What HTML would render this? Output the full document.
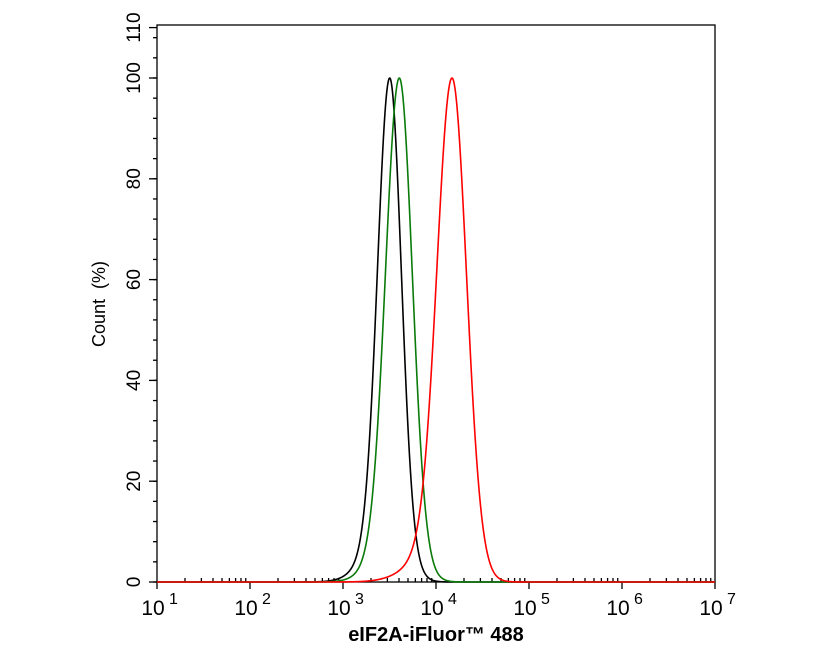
<!DOCTYPE html>
<html><head><meta charset="utf-8"><style>
body{margin:0;background:#fff;}
svg{display:block;font-family:"Liberation Sans",Arial,sans-serif;}
</style></head><body>
<svg id="s" width="816" height="653" viewBox="0 0 816 653" xmlns="http://www.w3.org/2000/svg">
<rect width="816" height="653" fill="#fff"/>
<g id="ax" stroke="#000" stroke-width="1.3" fill="none"></g>
<g id="cv" fill="none" stroke-width="1.6"></g>
<g id="tx" font-size="19" fill="#000"></g>
<text x="436" y="641" font-size="20" font-weight="bold" text-anchor="middle">eIF2A-iFluor™ 488</text>
<text transform="translate(105,304) rotate(-90)" font-size="18" text-anchor="middle">Count&#160;&#160;(%)</text>
</svg>
<script>
var NS="http://www.w3.org/2000/svg";
var L=157,R=715,T=25,B=582;
function yv(v){return B-(B-78)*v/100;}
function xv(l){return L+(l-1)*(R-L)/6;}
var ax=document.getElementById('ax'),tx=document.getElementById('tx'),cv=document.getElementById('cv');
function el(p,t,a){var e=document.createElementNS(NS,t);for(var k in a)e.setAttribute(k,a[k]);p.appendChild(e);return e;}
el(ax,'rect',{x:L,y:T,width:R-L,height:B-T});
for(var v=0;v<=110;v+=4){var y=yv(v);el(ax,'line',{x1:L-4,x2:L,y1:y,y2:y});}
[0,20,40,60,80,100,110].forEach(function(v){var y=yv(v);el(ax,'line',{x1:L-8,x2:L,y1:y,y2:y});
var t=el(tx,'text',{transform:'translate(140,'+y+') rotate(-90)','text-anchor':'middle'});t.textContent=v;});
for(var d=1;d<=7;d++){var x=xv(d);el(ax,'line',{x1:x,x2:x,y1:B,y2:B+7});
var t=el(tx,'text',{x:x-4,y:615,'text-anchor':'middle','font-size':21});t.textContent='10';
var s=el(tx,'text',{x:x+12,y:604,'font-size':16});s.textContent=d;
if(d<7)for(var k=2;k<10;k++){var xx=xv(d+Math.log10(k));el(ax,'line',{x1:xx,x2:xx,y1:B,y2:B-4});}}
function g(d,s){return Math.exp(-0.5*d*d/(s*s));}
function curve(c,pk,sl,sr,tl,tr){var p='';for(var x=L;x<=R;x+=0.5){var dd=x-pk,s=dd<0?sl:sr,t=dd<0?tl:tr;
var v=100*(0.9*g(dd,s)+0.1*g(dd,t));
p+=(x==L?'M':'L')+x+','+yv(v).toFixed(2);}el(cv,'path',{d:p,stroke:c});}
curve('#000',389.7,12,11.5,22,16);
curve('#0a7a0a',399.3,13.5,12.8,22,17);
curve('#f00',452,14.8,14.3,30,18);
</script>
</body></html>
